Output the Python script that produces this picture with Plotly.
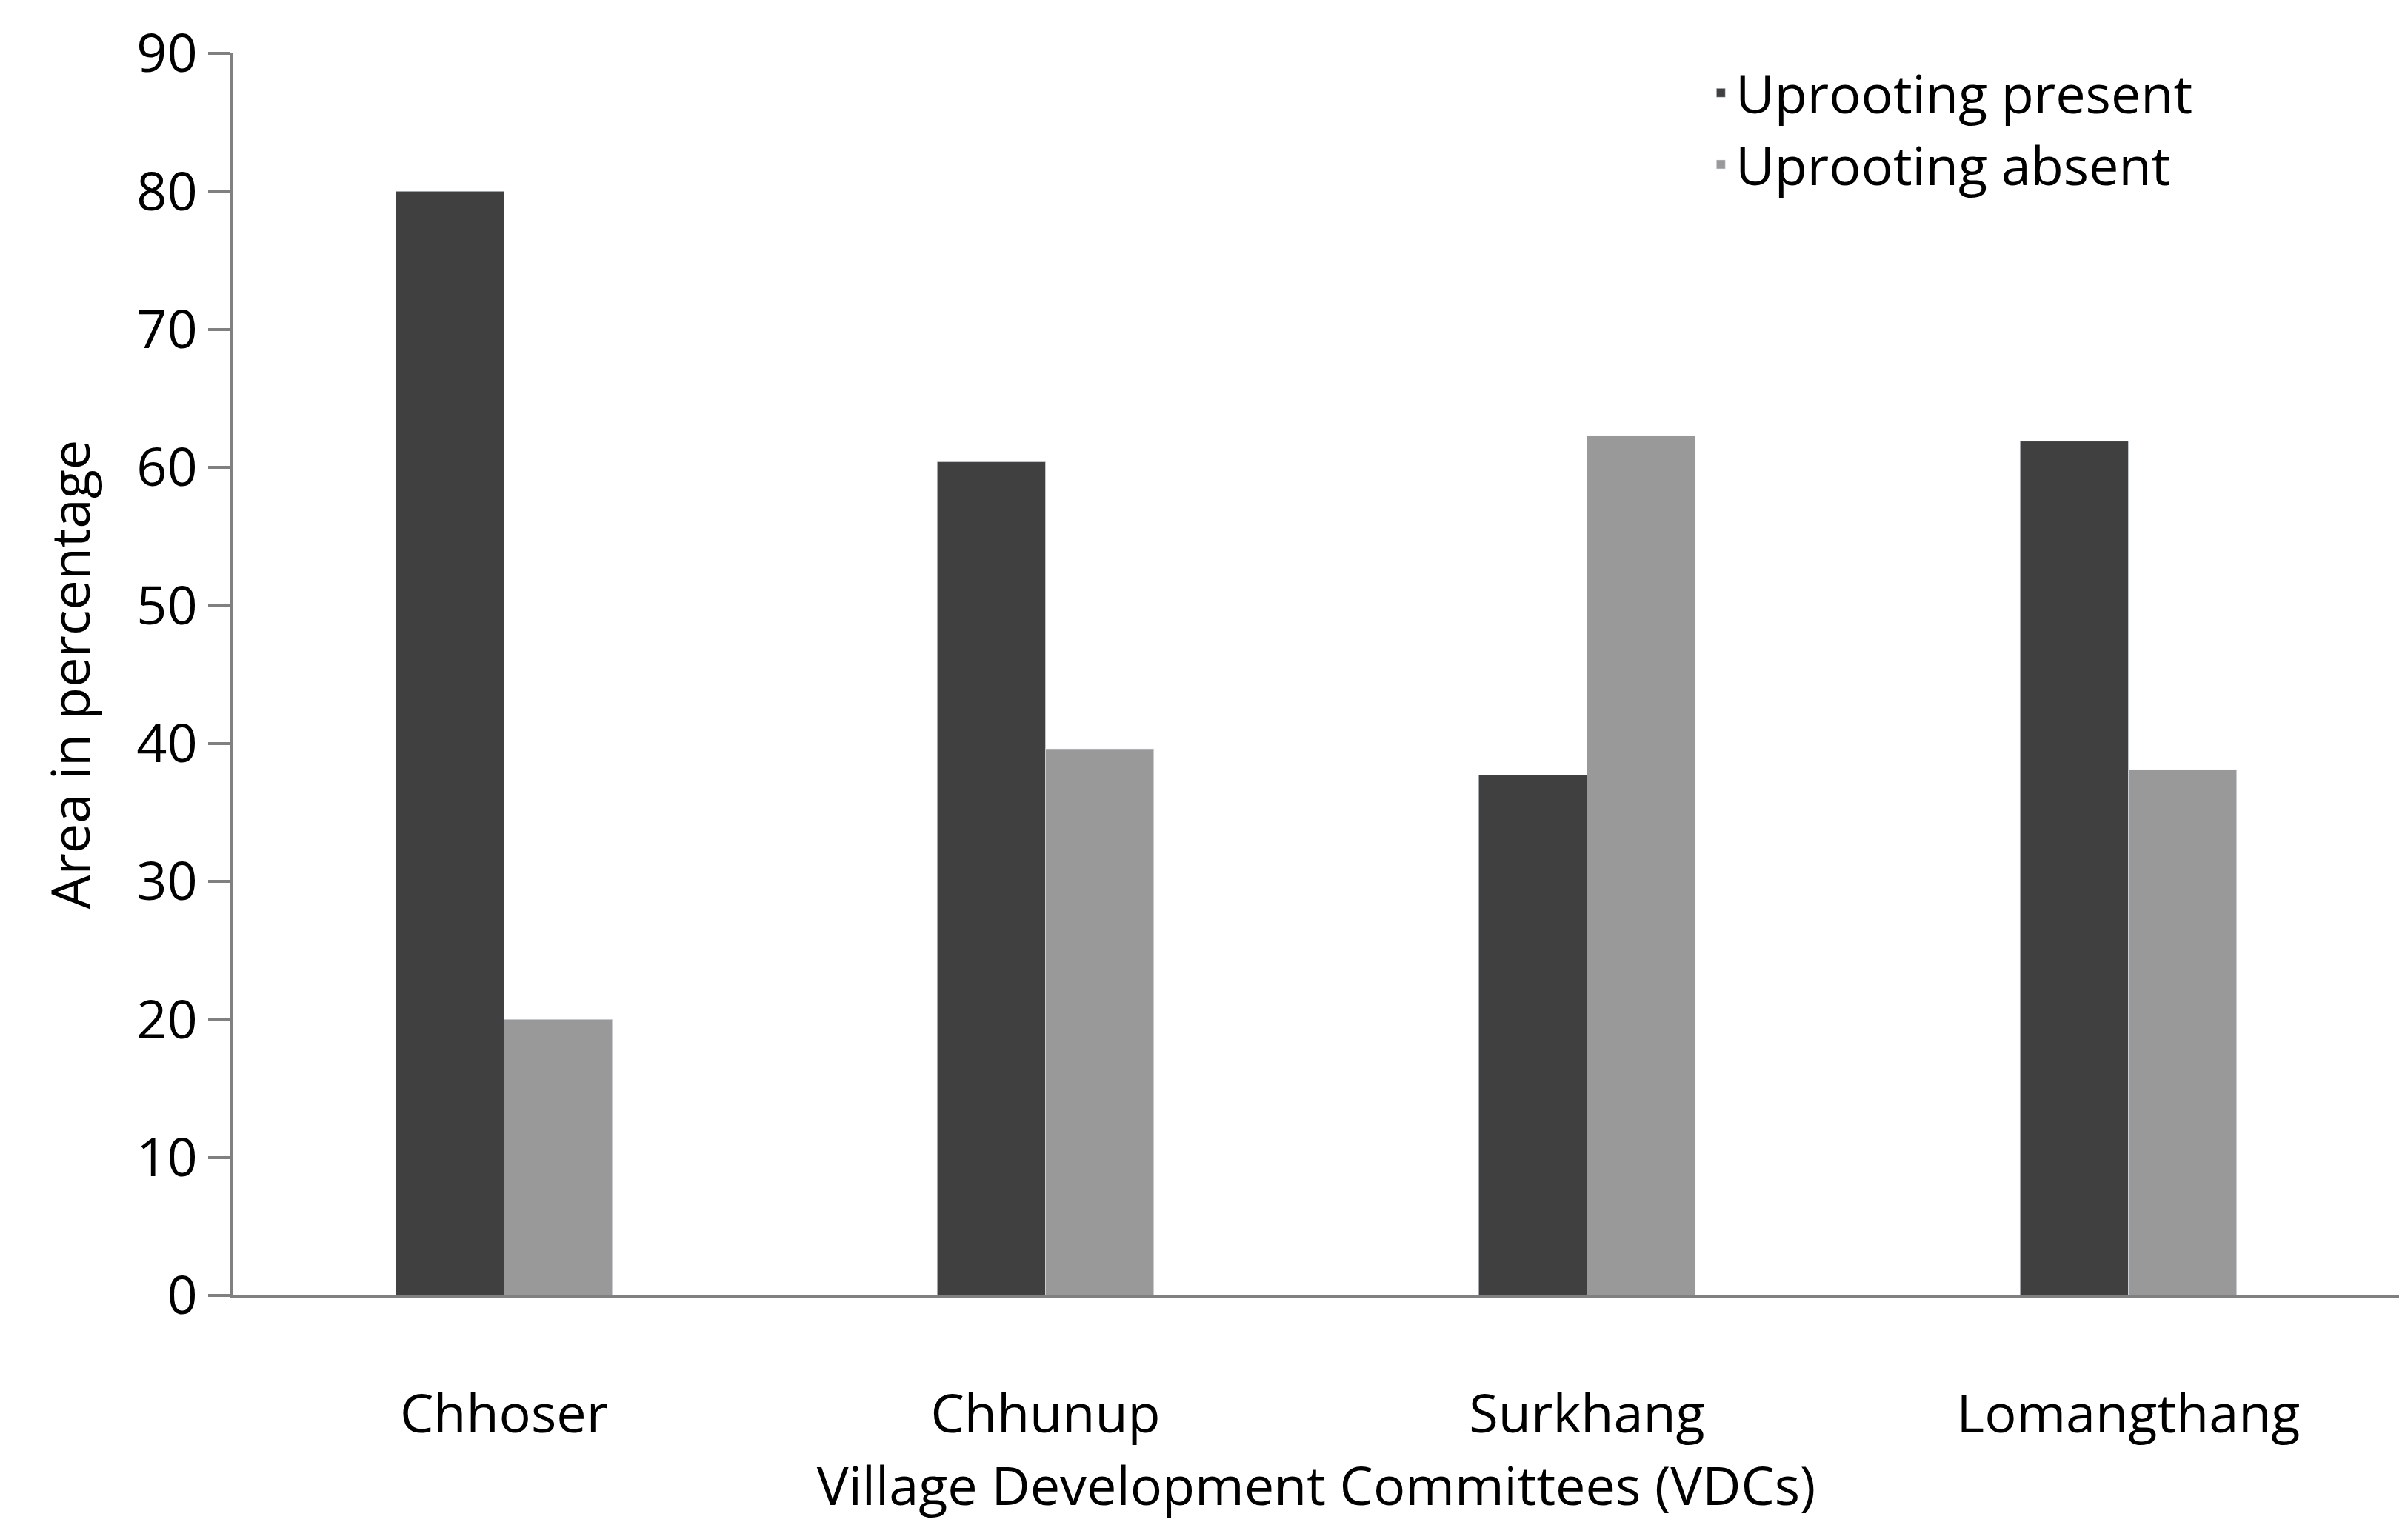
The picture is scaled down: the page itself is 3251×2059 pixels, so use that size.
import plotly.graph_objects as go

vdcs = ["Chhoser", "Chhunup", "Surkhang", "Lomangthang"]
present = [80.0, 60.4, 37.7, 61.9]
absent = [20.0, 39.6, 62.3, 38.1]
yticks = [0, 10, 20, 30, 40, 50, 60, 70, 80, 90]

fnt = dict(family="Open Sans, Liberation Sans, sans-serif", size=68, color="black")

fig = go.Figure()
fig.add_trace(go.Bar(x=vdcs, y=present, name="Uprooting present", marker_color="#404040"))
fig.add_trace(go.Bar(x=vdcs, y=absent, name="Uprooting absent", marker_color="#999999"))

fig.update_layout(
    width=3251, height=2059,
    paper_bgcolor="white", plot_bgcolor="white",
    font=fnt,
    barmode="group", bargap=0.6, bargroupgap=0,
    margin=dict(l=307, r=20, t=52, b=318),
    legend=dict(x=0.68, y=1.0, xanchor="left", yanchor="top",
                font=dict(size=72), itemwidth=30, tracegroupgap=40,
                bgcolor="rgba(0,0,0,0)"),
    xaxis=dict(showline=True, linecolor="#808080", linewidth=4,
               ticks="", ticklabelstandoff=95,
               tickfont=dict(size=72),
               title=dict(text="Village Development Committees (VDCs)",
                          font=dict(size=72), standoff=20)),
    yaxis=dict(range=[0, 90], tickvals=yticks, showgrid=False,
               showline=True, linecolor="#808080", linewidth=4,
               ticks="outside", ticklen=30, tickwidth=4, tickcolor="#808080",
               tickfont=dict(size=72), zeroline=False,
               title=dict(text="Area in percentage", font=dict(size=72), standoff=40)),
)

fig.write_html("out.html")
